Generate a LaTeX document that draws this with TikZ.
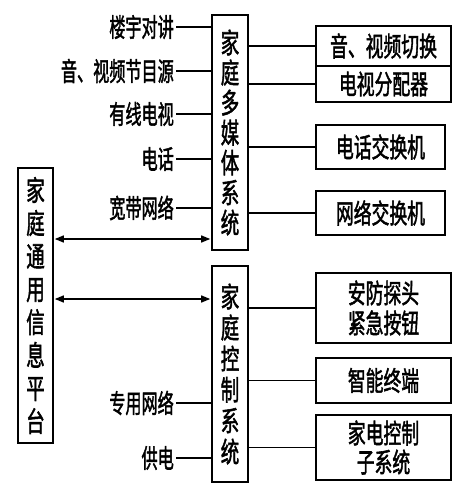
\documentclass[tikz,border=0pt]{standalone}
\usepackage{fontspec}
\newfontfamily\cjk{Noto Sans CJK SC}[FakeBold=2]
\usetikzlibrary{arrows.meta}
\newcommand\nz[1]{\scalebox{0.66}[1]{#1}}
\newcommand\nl[1]{\scalebox{0.62}[1]{#1}}
\tikzset{
  box/.style={draw, line width=1.6pt, rectangle, inner sep=0pt, align=center,
    font=\cjk\fontsize{28}{30}\selectfont},
  vbox/.style={box, minimum width=36pt},
  rbox/.style={box, font=\cjk\fontsize{27}{30}\selectfont},
  lab/.style={anchor=east, inner sep=0pt, font=\cjk\fontsize{26}{26}\selectfont},
  conn/.style={line width=1.3pt},
  dbl/.style={line width=1.3pt, {Triangle[length=9pt,width=7pt]}-{Triangle[length=9pt,width=7pt]}}
}
\begin{document}
\begin{tikzpicture}[x=1pt,y=-1pt]
\useasboundingbox (0,0) rectangle (473,492);
% vertical boxes
\node[vbox, minimum height=235pt] (mm) at (230,132.5)
  {\nz{家}\\\nz{庭}\\\nz{多}\\\nz{媒}\\\nz{体}\\\nz{系}\\\nz{统}};
\node[vbox, minimum height=216pt, font=\cjk\fontsize{28}{31}\selectfont] (ctl) at (230,374)
  {\nz{家}\\\nz{庭}\\\nz{控}\\\nz{制}\\\nz{系}\\\nz{统}};
\node[vbox, minimum width=35pt, minimum height=275pt, font=\cjk\fontsize{28}{33}\selectfont] (plat) at (35.5,305.5)
  {\nz{家}\\\nz{庭}\\\nz{通}\\\nz{用}\\\nz{信}\\\nz{息}\\\nz{平}\\\nz{台}};
% right boxes
\node[rbox, minimum width=135pt, minimum height=40pt] (av) at (383.5,46) {\nz{音、视频切换}};
\node[rbox, minimum width=135pt, minimum height=36pt] (tv) at (383.5,84) {\nz{电视分配器}};
\node[rbox, minimum width=129pt, minimum height=44pt] (tel) at (380.5,147) {\nz{电话交换机}};
\node[rbox, minimum width=129pt, minimum height=44pt] (net) at (380.5,213) {\nz{网络交换机}};
\node[rbox, minimum width=135pt, minimum height=70pt] (sec) at (383.5,308) {\nz{安防探头}\\\nz{紧急按钮}};
\node[rbox, minimum width=135pt, minimum height=45pt] (smart) at (383.5,380.5) {\nz{智能终端}};
\node[rbox, minimum width=135pt, minimum height=65pt, font=\cjk\fontsize{27}{29}\selectfont] (app) at (383.5,447.5) {\nz{家电控制}\\\nz{子系统}};
% connectors right
\foreach \b in {av,tv,tel,net} \draw[conn] (mm.east |- \b.west) -- (\b.west);
\foreach \b in {sec,smart,app} \draw[conn] (ctl.east |- \b.west) -- (\b.west);
% left labels
\node[lab] (l1) at (174,27) {\nl{楼宇对讲}};
\node[lab] (l2) at (174,71) {\nl{音、视频节目源}};
\node[lab] (l3) at (174,114) {\nl{有线电视}};
\node[lab] (l4) at (174,159) {\nl{电话}};
\node[lab] (l5) at (174,208) {\nl{宽带网络}};
\node[lab] (l6) at (174,403) {\nl{专用网络}};
\node[lab] (l7) at (174,458) {\nl{供电}};
\foreach \l in {l1,l2,l3,l4,l5} \draw[conn] ([xshift=2pt]\l.east) -- (mm.west |- \l.east);
\foreach \l in {l6,l7} \draw[conn] ([xshift=2pt]\l.east) -- (ctl.west |- \l.east);
% arrows
\coordinate (ya) at (0,239);
\coordinate (yb) at (0,299);
\draw[dbl] ([xshift=1pt]plat.east |- ya) -- ([xshift=-1pt]mm.west |- ya);
\draw[dbl] ([xshift=1pt]plat.east |- yb) -- ([xshift=-1pt]ctl.west |- yb);
\end{tikzpicture}
\end{document}
